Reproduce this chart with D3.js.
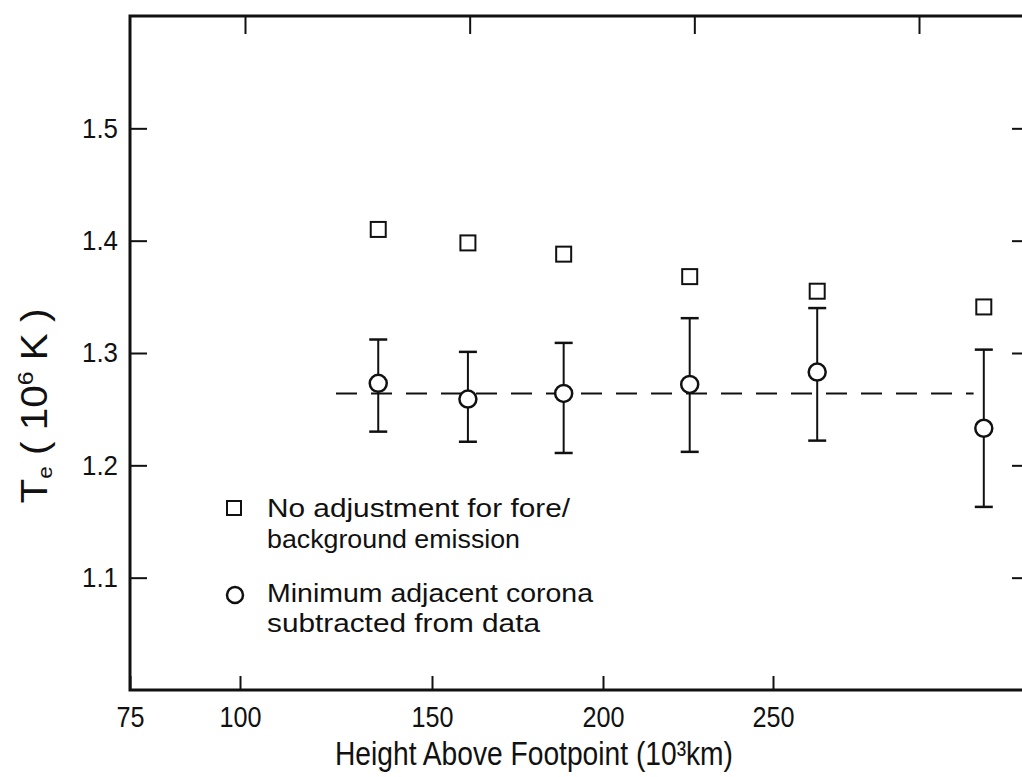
<!DOCTYPE html>
<html>
<head>
<meta charset="utf-8">
<script src="https://cdn.jsdelivr.net/npm/d3@7"></script>
<style>
  body { margin: 0; background: #fff; }
  text { font-family: "Liberation Sans", Arial, sans-serif; fill: #111; }
</style>
</head>
<body>
<svg width="1022" height="777"></svg>
<script>
// Height above footpoint (10^3 km) of each measurement
const heights = [136, 160.5, 188.5, 225.5, 263, 312];
// Te (10^6 K) with no adjustment for fore/background emission (squares)
const teRaw = [1.410, 1.398, 1.388, 1.368, 1.355, 1.341];
// Te (10^6 K) with minimum adjacent corona subtracted (circles) + error limits
const teSub = [1.273, 1.259, 1.264, 1.272, 1.283, 1.233];
const errHigh = [1.312, 1.301, 1.309, 1.331, 1.340, 1.303];
const errLow = [1.230, 1.221, 1.211, 1.212, 1.222, 1.163];
// mean level drawn dashed through the circles
const meanLine = [[125, 1.264], [309, 1.264]];

// tick values
const xTicks = [75, 100, 150, 200, 250];
const yTicks = [1.1, 1.2, 1.3, 1.4, 1.5];
const topTicks = [1, 2, 3, 4];

const svg = d3.select('svg');
svg.append('rect').attr('width', 1022).attr('height', 777).attr('fill', '#fff');

// frame edges (right edge sits just outside the picture)
const plotLeft = 130, plotTop = 16, plotBottom = 690, plotRight = 1026;

// hand drawn axis: tick spacing is not even, so use a piecewise scale
const x = d3.scaleLinear()
    .domain(xTicks)
    .range([plotLeft, 240, 432, 603, 773]);

const y = d3.scaleLinear()
    .domain([1.0, 1.6])
    .range([plotBottom, plotTop]);

// top axis ticks are spaced evenly on their own
const xTop = d3.scaleLinear().domain([1, 4]).range([245, 919]);

// frame
svg.append('rect')
    .attr('x', plotLeft).attr('y', plotTop)
    .attr('width', plotRight - plotLeft).attr('height', plotBottom - plotTop)
    .attr('fill', 'none').attr('stroke', '#111').attr('stroke-width', 3);

// axes, ticks pointing inward
const gx = svg.append('g')
    .attr('transform', `translate(0,${plotBottom})`)
    .call(d3.axisBottom(x).tickValues(xTicks).tickSize(-14).tickPadding(16));
gx.selectAll('text')
    .style('font-size', '29px')
    .attr('textLength', d => 14 * String(d).length)
    .attr('lengthAdjust', 'spacingAndGlyphs');

const gy = svg.append('g')
    .attr('transform', `translate(${plotLeft},0)`)
    .call(d3.axisLeft(y).tickValues(yTicks).tickSize(-17).tickPadding(12)
        .tickFormat(d3.format('.1f')));
gy.selectAll('text')
    .style('font-size', '28px')
    .attr('textLength', 36)
    .attr('lengthAdjust', 'spacingAndGlyphs');

svg.append('g')
    .attr('transform', `translate(0,${plotTop})`)
    .call(d3.axisTop(xTop).tickValues(topTicks).tickSize(-18).tickFormat(''));

svg.append('g')
    .attr('transform', `translate(${plotRight},0)`)
    .call(d3.axisRight(y).tickValues(yTicks).tickSize(-14).tickFormat(''));

svg.selectAll('.domain').remove();
svg.selectAll('.tick line').attr('stroke', '#111').attr('stroke-width', 2);

// dashed mean level
svg.append('path')
    .datum(meanLine)
    .attr('d', d3.line().x(d => x(d[0])).y(d => y(d[1])))
    .attr('fill', 'none')
    .attr('stroke', '#111')
    .attr('stroke-width', 2)
    .attr('stroke-dasharray', '21,14');

const pts = heights.map((h, i) => ({
    h: h, raw: teRaw[i], sub: teSub[i], hi: errHigh[i], lo: errLow[i]
}));

// error bars
const cap = 9;
const eb = svg.append('g').attr('stroke', '#111').attr('stroke-width', 2);
eb.selectAll('.stem').data(pts).enter().append('line')
    .attr('x1', d => x(d.h)).attr('x2', d => x(d.h))
    .attr('y1', d => y(d.lo)).attr('y2', d => y(d.hi));
eb.selectAll('.capHi').data(pts).enter().append('line')
    .attr('x1', d => x(d.h) - cap).attr('x2', d => x(d.h) + cap)
    .attr('y1', d => y(d.hi)).attr('y2', d => y(d.hi))
    .attr('stroke-width', 2.5);
eb.selectAll('.capLo').data(pts).enter().append('line')
    .attr('x1', d => x(d.h) - cap).attr('x2', d => x(d.h) + cap)
    .attr('y1', d => y(d.lo)).attr('y2', d => y(d.lo))
    .attr('stroke-width', 2.5);

// circles (subtracted)
svg.selectAll('.sub').data(pts).enter().append('circle')
    .attr('cx', d => x(d.h)).attr('cy', d => y(d.sub)).attr('r', 8.5)
    .attr('fill', '#fff').attr('stroke', '#111').attr('stroke-width', 2.5);

// squares (no adjustment)
const sq = 15;
svg.selectAll('.raw').data(pts).enter().append('rect')
    .attr('x', d => x(d.h) - sq / 2).attr('y', d => y(d.raw) - sq / 2)
    .attr('width', sq).attr('height', sq)
    .attr('fill', '#fff').attr('stroke', '#111').attr('stroke-width', 2);

// legend
const lg = svg.append('g');
lg.append('rect').attr('x', 227).attr('y', 501).attr('width', 14).attr('height', 14)
    .attr('fill', '#fff').attr('stroke', '#111').attr('stroke-width', 2);
lg.append('circle').attr('cx', 235).attr('cy', 595).attr('r', 8)
    .attr('fill', '#fff').attr('stroke', '#111').attr('stroke-width', 2.5);
const legendLines = [
    ['No adjustment for fore/', 517, 303],
    ['background emission', 548, 253],
    ['Minimum adjacent corona', 602, 326],
    ['subtracted from data', 632, 273]
];
lg.selectAll('text').data(legendLines).enter().append('text')
    .attr('x', 267).attr('y', d => d[1])
    .attr('textLength', d => d[2])
    .attr('lengthAdjust', 'spacingAndGlyphs')
    .style('font-size', '25px')
    .text(d => d[0]);

// x title (superscript as a plain character so nothing overlaps)
svg.append('text')
    .attr('x', 335).attr('y', 765)
    .attr('textLength', 398)
    .attr('lengthAdjust', 'spacingAndGlyphs')
    .style('font-size', '34px')
    .text('Height  Above Footpoint (10³km)');

// y title
const yt = svg.append('text')
    .attr('transform', 'translate(47,406) rotate(-90)')
    .attr('text-anchor', 'middle')
    .attr('textLength', 195)
    .attr('lengthAdjust', 'spacingAndGlyphs')
    .style('font-size', '36px');
yt.append('tspan').text('T');
yt.append('tspan').attr('dy', 5).style('font-size', '20px').text('e');
yt.append('tspan').attr('dy', -5).text(' ( 10');
yt.append('tspan').attr('dy', -14).style('font-size', '22px').text('6');
yt.append('tspan').attr('dy', 14).text(' K )');
</script>
</body>
</html>
